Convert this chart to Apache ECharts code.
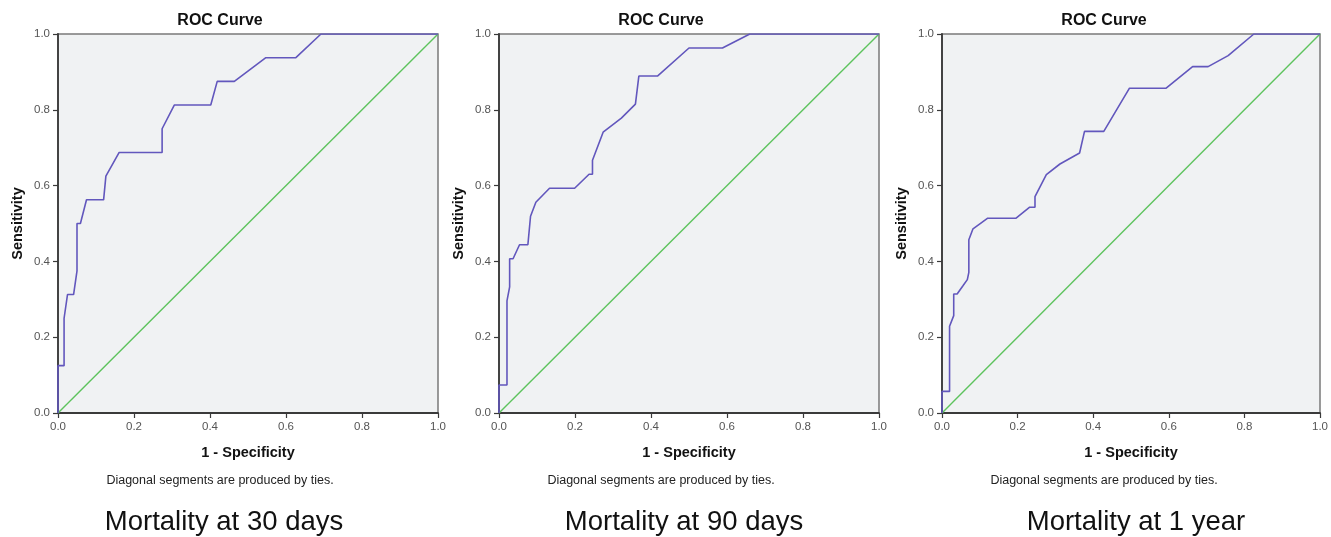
<!DOCTYPE html>
<html>
<head>
<meta charset="utf-8">
<script src="https://cdn.jsdelivr.net/npm/echarts@6/dist/echarts.min.js"></script>
<style>
html,body{margin:0;padding:0;background:#fff;}
#c{width:1331px;height:537px;}
</style>
</head>
<body>
<div id="c"></div>
<script>
// ---- data ----
var panelTitles = ['Mortality at 30 days', 'Mortality at 90 days', 'Mortality at 1 year'];
var chartTitle = 'ROC Curve';
var xAxisName = '1 - Specificity';
var yAxisName = 'Sensitivity';
var footnote = 'Diagonal segments are produced by ties.';

var fpr30 = [0, 0, 0.016, 0.016, 0.025, 0.041, 0.05, 0.05, 0.059, 0.075, 0.12, 0.126, 0.161, 0.274, 0.274, 0.306, 0.402, 0.419, 0.464, 0.547, 0.626, 0.692, 1];
var tpr30 = [0, 0.125, 0.125, 0.25, 0.3125, 0.3125, 0.375, 0.5, 0.5, 0.5625, 0.5625, 0.625, 0.6875, 0.6875, 0.75, 0.8125, 0.8125, 0.875, 0.875, 0.9375, 0.9375, 1, 1];

var fpr90 = [0, 0, 0.021, 0.021, 0.028, 0.028, 0.037, 0.054, 0.076, 0.083, 0.097, 0.133, 0.199, 0.237, 0.246, 0.246, 0.274, 0.322, 0.359, 0.368, 0.417, 0.5, 0.588, 0.66, 1];
var tpr90 = [0, 0.074, 0.074, 0.296, 0.333, 0.407, 0.407, 0.444, 0.444, 0.519, 0.556, 0.593, 0.593, 0.630, 0.630, 0.667, 0.741, 0.778, 0.815, 0.889, 0.889, 0.963, 0.963, 1, 1];

var fpr1y = [0, 0, 0.020, 0.020, 0.031, 0.031, 0.040, 0.055, 0.067, 0.071, 0.071, 0.082, 0.121, 0.196, 0.232, 0.246, 0.246, 0.276, 0.312, 0.364, 0.377, 0.428, 0.496, 0.593, 0.663, 0.704, 0.757, 0.825, 1];
var tpr1y = [0, 0.057, 0.057, 0.229, 0.257, 0.314, 0.314, 0.335, 0.352, 0.371, 0.457, 0.486, 0.514, 0.514, 0.543, 0.543, 0.571, 0.629, 0.657, 0.686, 0.743, 0.743, 0.857, 0.857, 0.914, 0.914, 0.943, 1, 1];

var diagX = [0, 1];
var diagY = [0, 1];

// ---- build ----
function zip(a, b) { return a.map(function (v, i) { return [v, b[i]]; }); }

var curves = [[fpr30, tpr30], [fpr90, tpr90], [fpr1y, tpr1y]];
var lefts = [58, 499, 942];
var bigCenters = [224, 684, 1136];
var plotW = 380, plotTop = 34, plotH = 379;
var FONT = '"Liberation Sans", Arial, sans-serif';

var grids = [], xAxes = [], yAxes = [], series = [], graphics = [];
lefts.forEach(function (L, i) {
  grids.push({
    left: L, top: plotTop, width: plotW, height: plotH,
    show: true, backgroundColor: '#f0f2f3', borderColor: '#7a7a7a', borderWidth: 1.5
  });
  var common = {
    type: 'value', min: 0, max: 1, interval: 0.2, gridIndex: i,
    axisLine: { show: true, onZero: false, lineStyle: { color: '#3a3a3a', width: 1.8 } },
    axisTick: { show: true, length: 5, lineStyle: { color: '#3a3a3a', width: 1.2 } },
    axisLabel: { color: '#555', fontSize: 11.5, fontFamily: FONT, margin: 8,
      formatter: function (v) { return (+v).toFixed(1); } },
    splitLine: { show: false }
  };
  xAxes.push(Object.assign({}, common, {
    position: 'bottom',
    name: xAxisName, nameLocation: 'middle', nameGap: 32,
    nameTextStyle: { fontSize: 14.5, fontWeight: 'bold', color: '#111', fontFamily: FONT }
  }));
  yAxes.push(Object.assign({}, common, {
    position: 'left',
    name: yAxisName, nameLocation: 'middle', nameGap: 33,
    nameTextStyle: { fontSize: 14.5, fontWeight: 'bold', color: '#111', fontFamily: FONT }
  }));
  series.push({
    type: 'line', xAxisIndex: i, yAxisIndex: i, data: zip(diagX, diagY),
    showSymbol: false, silent: true, z: 2,
    lineStyle: { color: '#5dc35d', width: 1.4 }
  });
  series.push({
    type: 'line', xAxisIndex: i, yAxisIndex: i, data: zip(curves[i][0], curves[i][1]),
    showSymbol: false, silent: true, z: 3,
    lineStyle: { color: '#6257bd', width: 1.6 }
  });
  var cx = L + 162;
  graphics.push({ type: 'text', x: cx, y: 21,
    style: { text: chartTitle, fill: '#111', font: 'bold 16px ' + FONT, textAlign: 'center', textVerticalAlign: 'middle' } });
  graphics.push({ type: 'text', x: cx, y: 481,
    style: { text: footnote, fill: '#222', font: '12.5px ' + FONT, textAlign: 'center', textVerticalAlign: 'middle' } });
  graphics.push({ type: 'text', x: bigCenters[i], y: 522,
    style: { text: panelTitles[i], fill: '#111', font: '27.5px ' + FONT, textAlign: 'center', textVerticalAlign: 'middle' } });
});

var chart = echarts.init(document.getElementById('c'), null, { renderer: 'canvas' });
chart.setOption({
  animation: false,
  backgroundColor: '#ffffff',
  grid: grids, xAxis: xAxes, yAxis: yAxes, series: series, graphic: graphics
});
</script>
</body>
</html>
